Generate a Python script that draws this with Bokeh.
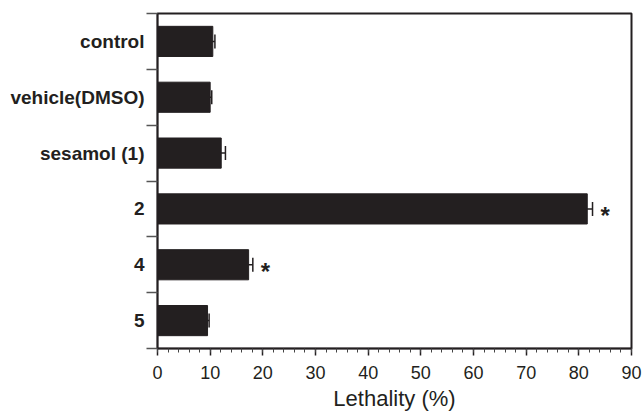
from bokeh.plotting import figure
from bokeh.models import FixedTicker, SingleIntervalTicker, ColumnDataSource, Whisker, TeeHead, Range1d
from bokeh.embed import file_html
from bokeh.resources import INLINE
from bokeh.core.properties import value

categories = ["control", "vehicle(DMSO)", "sesamol (1)", "2", "4", "5"]
lethality = [10.5, 10.0, 12.1, 81.6, 17.3, 9.5]
errors = [0.4, 0.3, 0.8, 1.0, 0.8, 0.3]
significant = [False, False, False, True, True, False]

n = len(categories)
ypos = [n - i - 0.5 for i in range(n)]
DARK = "#231f20"

p = figure(width=643, height=414, output_backend="svg", toolbar_location=None,
           x_range=Range1d(0, 90), y_range=Range1d(0, n),
           min_border_left=157, min_border_right=12, min_border_top=13, min_border_bottom=66)
p.xgrid.visible = False
p.ygrid.visible = False
p.outline_line_color = DARK
p.outline_line_width = 2
p.background_fill_color = "white"
p.border_fill_color = "white"

src = ColumnDataSource(dict(
    y=ypos, v=lethality,
    lo=[a - b for a, b in zip(lethality, errors)],
    hi=[a + b for a, b in zip(lethality, errors)],
))
p.hbar(y="y", right="v", left=0, height=0.54, source=src, fill_color=DARK, line_color=DARK)
w = Whisker(source=src, base="y", lower="lo", upper="hi", dimension="width",
            line_color=DARK, line_width=1.5,
            upper_head=TeeHead(size=14, line_color=DARK, line_width=1.5),
            lower_head=TeeHead(size=14, line_color=DARK, line_width=1.5))
p.add_layout(w)

sx = [lethality[i] + errors[i] + 2.4 for i in range(n) if significant[i]]
sy = [ypos[i] for i in range(n) if significant[i]]
p.text(x=sx, y=sy, text=["*"] * len(sx), text_align="center", text_baseline="middle",
       y_offset=7, text_font=value("Liberation Sans"), text_font_style="bold",
       text_font_size="24px", text_color=DARK)

# y axis: labels at centers, ticks at boundaries
yax = p.yaxis[0]
yax.ticker = FixedTicker(ticks=ypos, minor_ticks=list(range(n + 1)))
yax.major_label_overrides = {float(y): c for y, c in zip(ypos, categories)}
yax.major_tick_out = 0
yax.major_tick_in = 0
yax.minor_tick_out = 11
yax.minor_tick_in = 0
yax.minor_tick_line_color = "#555555"
yax.minor_tick_line_width = 1.5
yax.axis_line_color = DARK
yax.axis_line_width = 1.5
yax.major_label_text_font = "Liberation Sans"
yax.major_label_text_font_style = "bold"
yax.major_label_text_font_size = "19px"
yax.major_label_text_color = DARK
yax.major_label_standoff = 2

xax = p.xaxis[0]
xax.ticker = SingleIntervalTicker(interval=10, num_minor_ticks=5)
xax.major_tick_out = 7
xax.major_tick_in = 0
xax.minor_tick_out = 4
xax.minor_tick_in = 0
xax.major_tick_line_color = DARK
xax.minor_tick_line_color = "#444444"
xax.major_tick_line_width = 1.5
xax.axis_line_color = DARK
xax.axis_line_width = 1.5
xax.major_label_text_font = "Liberation Sans"
xax.major_label_text_font_size = "18px"
xax.major_label_text_color = DARK
xax.major_label_standoff = 10
xax.axis_label = "Lethality (%)"
xax.axis_label_text_font = "Liberation Sans"
xax.axis_label_text_font_style = "normal"
xax.axis_label_text_font_size = "22px"
xax.axis_label_text_color = DARK
xax.axis_label_standoff = 4

open("out.html", "w").write(file_html(p, INLINE))
